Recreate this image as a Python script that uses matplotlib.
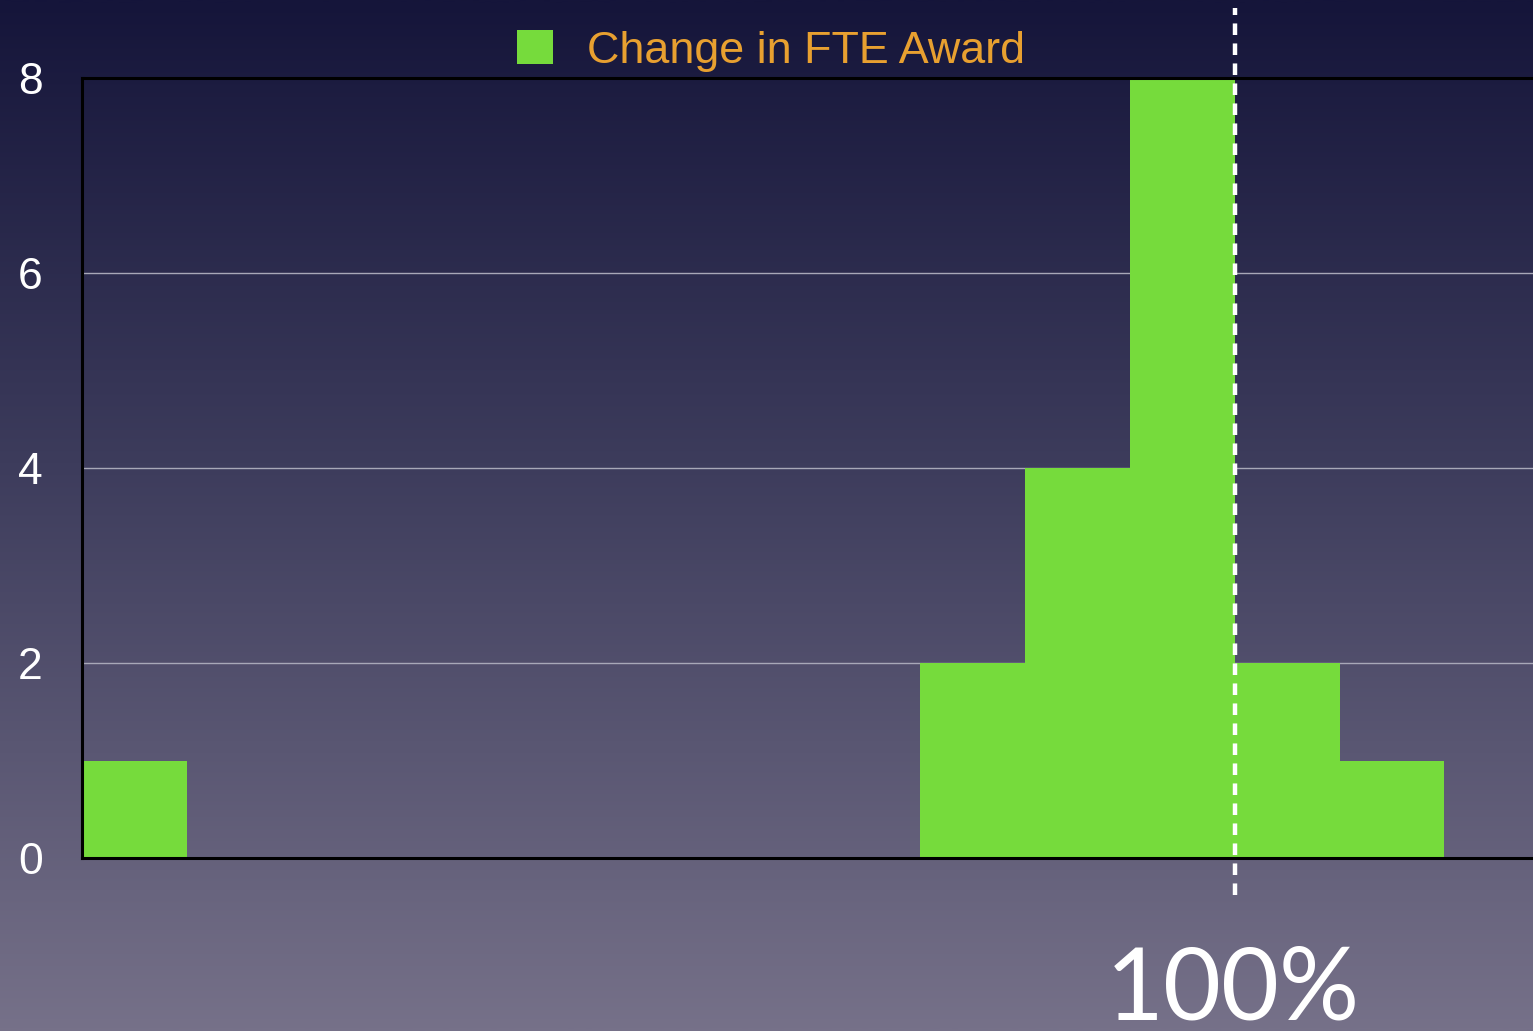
import numpy as np
import matplotlib
matplotlib.use("Agg")
import matplotlib.pyplot as plt
from matplotlib.colors import LinearSegmentedColormap

# Data
bins = list(range(14))
counts = [1, 0, 0, 0, 0, 0, 0, 0, 2, 4, 8, 2, 1, 0]
y_ticks = [0, 2, 4, 6, 8]
series_label = "Change in FTE Award"
marker_x = 11
marker_label = "100%"

W, H = 1533, 1031
fig = plt.figure(figsize=(W / 100, H / 100), dpi=100)

# Background gradient
bg = fig.add_axes([0, 0, 1, 1], zorder=-10)
cmap = LinearSegmentedColormap.from_list(
    "bg", [(0.0, "#15153a"), (0.45, "#3d3c5c"), (1.0, "#767189")])
grad = np.linspace(0, 1, 512).reshape(-1, 1)
bg.imshow(grad, aspect="auto", cmap=cmap, extent=[0, 1, 0, 1], origin="upper")
bg.axis("off")

left = 82 / W
bottom = 1 - 858 / H
top = 1 - 78 / H
ax = fig.add_axes([left, bottom, 1.0 - left, top - bottom])
ax.set_facecolor("none")

ax.bar(bins, counts, width=1.0, align="edge", color="#76db3c",
       edgecolor="none", zorder=2, label=series_label)

ax.set_xlim(0, (W - 82) / 104.8)
ax.set_ylim(0, 8)
ax.set_yticks(y_ticks)
ax.set_xticks([])
ax.yaxis.grid(True, color="#a8a8b8", linewidth=1.0, zorder=0)
ax.set_axisbelow(True)
ax.tick_params(axis="y", length=0, pad=37, labelsize=32, labelcolor="white")
for lab in ax.get_yticklabels():
    lab.set_fontfamily("Liberation Sans")
    lab.set_horizontalalignment("center")

for side in ["left", "top", "bottom"]:
    ax.spines[side].set_color("black")
    ax.spines[side].set_linewidth(2.2)
ax.spines["right"].set_visible(False)

# dashed reference line extending beyond axes
ax.plot([marker_x, marker_x], [-0.38, 8.72], color="white", linewidth=3.2,
        linestyle=(0, (2.6, 1.9)), clip_on=False, zorder=5)

leg = ax.legend(loc="center", bbox_to_anchor=(0.503, 1 - 51 / H),
                bbox_transform=fig.transFigure, frameon=False,
                handlelength=0.8, handleheight=0.8, handletextpad=0.75,
                prop={"family": "Liberation Sans", "size": 32.3})
for t in leg.get_texts():
    t.set_color("#e8a030")

fig.text(1233 / W, 1 - 1019 / H, marker_label, color="white",
         ha="center", va="baseline", fontsize=72, family="Lato",
         fontweight="normal")

fig.savefig("out.png", dpi=100)
